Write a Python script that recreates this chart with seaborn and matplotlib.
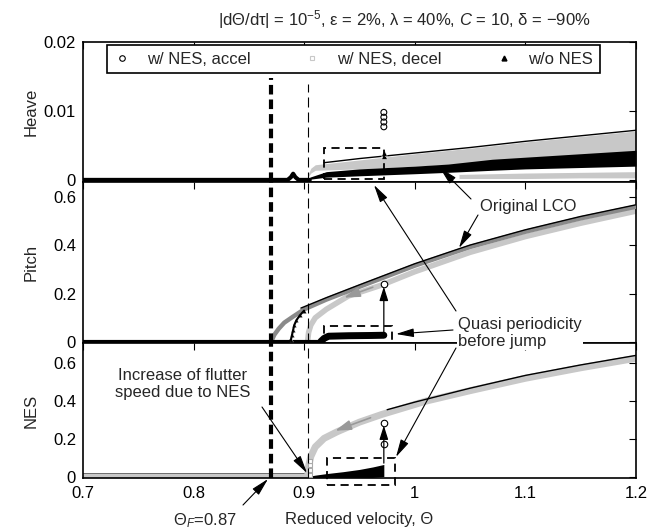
import numpy as np
import pandas as pd
import matplotlib
matplotlib.use('Agg')
import matplotlib.pyplot as plt
import matplotlib.patheffects as pe
import seaborn as sns
from matplotlib.patches import Rectangle
from matplotlib.lines import Line2D

sns.set_theme(style='white')
plt.rcParams['font.family'] = ['Liberation Sans', 'DejaVu Sans']
plt.rcParams['mathtext.fontset'] = 'custom'
plt.rcParams['mathtext.rm'] = 'Liberation Sans'
plt.rcParams['mathtext.it'] = 'Liberation Sans:italic'
plt.rcParams['mathtext.sf'] = 'Liberation Sans'
plt.rcParams['font.size'] = 12

# ---------------- data ----------------
theta_F = 0.87
theta_NES = 0.903
x_ticks = [0.7, 0.8, 0.9, 1.0, 1.1, 1.2]
x_ticklabels = ['0.7', '0.8', '0.9', '1', '1.1', '1.2']

# Heave
heave_zero_v = [0.70, 0.80, 0.86, 0.885, 0.888, 0.890, 0.892, 0.895, 0.905]
heave_zero = [0.0, 0.0, 0.0, 0.0, 0.0004, 0.0009, 0.0004, 0.0, 0.0]
heave_decel_v = [0.903, 0.906, 0.91, 0.95, 1.00, 1.05, 1.10, 1.15, 1.20]
heave_decel_lo = [0.0003, 0.0010, 0.0014, 0.0016, 0.0020, 0.0024, 0.0028, 0.0032, 0.0036]
heave_decel_hi = [0.0006, 0.0017, 0.0022, 0.0029, 0.0038, 0.0046, 0.0055, 0.0063, 0.0071]
heave_lco_v = [0.905, 0.92, 0.95, 1.00, 1.03, 1.07, 1.10, 1.15, 1.20]
heave_lco_lo = [0.0001, 0.0004, 0.0006, 0.0009, 0.0011, 0.0014, 0.0016, 0.0018, 0.0020]
heave_lco_hi = [0.0004, 0.0012, 0.0016, 0.0020, 0.0023, 0.0030, 0.0033, 0.0038, 0.0043]
heave_top_v = [0.918, 0.95, 1.00, 1.05, 1.10, 1.15, 1.20]
heave_top = [0.0025, 0.0031, 0.0039, 0.0047, 0.0056, 0.0064, 0.0072]
heave_low_v = [1.04, 1.10, 1.15, 1.20]
heave_low_lo = [0.0002, 0.0002, 0.0003, 0.0003]
heave_low_hi = [0.0008, 0.0010, 0.0011, 0.0012]
heave_jump_v = [0.972, 0.972, 0.972, 0.972]
heave_jump = [0.0077, 0.0084, 0.0091, 0.0098]
heave_spike_v = [0.972, 0.972]
heave_spike = [0.0035, 0.0039]

# Pitch
pitch_lco_v = [0.870, 0.873, 0.877, 0.882, 0.890, 0.900, 0.920, 0.950, 1.000, 1.050, 1.100, 1.150, 1.200]
pitch_lco = [0.000, 0.030, 0.055, 0.080, 0.105, 0.135, 0.175, 0.228, 0.315, 0.392, 0.455, 0.510, 0.558]
pitch_top_v = [0.897, 0.920, 0.950, 1.000, 1.050, 1.100, 1.150, 1.200]
pitch_top = [0.140, 0.183, 0.236, 0.323, 0.400, 0.463, 0.518, 0.566]
pitch_decel_v = [0.903, 0.904, 0.906, 0.910, 0.920, 0.940, 0.970, 1.000, 1.050, 1.100, 1.150, 1.200]
pitch_decel = [0.0, 0.04, 0.07, 0.10, 0.135, 0.19, 0.235, 0.29, 0.37, 0.435, 0.49, 0.540]
pitch_zero_v = [0.70, 0.80, 0.90, 0.915]
pitch_zero = [0.0, 0.0, 0.0, 0.0]
pitch_qp_v = [0.915, 0.918, 0.922, 0.94, 0.96, 0.972]
pitch_qp = [0.002, 0.015, 0.024, 0.026, 0.027, 0.028]
pitch_rise_v = [0.886, 0.888, 0.889, 0.890, 0.891, 0.893, 0.896, 0.900]
pitch_rise = [0.0, 0.01, 0.03, 0.05, 0.07, 0.09, 0.11, 0.13]
pitch_jump_v = [0.972]
pitch_jump = [0.238]

# NES
nes_zero_v = [0.70, 0.75, 0.80, 0.85, 0.903]
nes_zero = [0.0, 0.0, 0.0, 0.0, 0.0]
nes_decel_v = [0.903, 0.904, 0.906, 0.910, 0.918, 0.930, 0.950, 0.970, 0.990, 1.010, 1.050, 1.100, 1.150, 1.200]
nes_decel = [0.0, 0.06, 0.11, 0.16, 0.205, 0.24, 0.29, 0.33, 0.365, 0.40, 0.455, 0.52, 0.575, 0.625]
nes_top_v = [0.975, 1.00, 1.05, 1.10, 1.15, 1.20]
nes_top = [0.355, 0.395, 0.468, 0.535, 0.590, 0.640]
nes_qp_v = [0.903, 0.91, 0.92, 0.935, 0.95, 0.962, 0.972]
nes_qp_lo = [0.0, 0.0, 0.0, 0.0, 0.0, 0.0, 0.005]
nes_qp_hi = [0.005, 0.012, 0.020, 0.030, 0.042, 0.055, 0.068]
nes_sq_v = [0.905, 0.905, 0.905, 0.905]
nes_sq = [0.015, 0.040, 0.065, 0.085]
nes_jump_v = [0.972, 0.972]
nes_jump = [0.175, 0.285]

LG = '#c8c8c8'   # light gray (decel)
MG = '#8a8a8a'   # medium gray
K = 'black'

# ---------------- figure ----------------
fig = plt.figure(figsize=(6.66, 5.32), dpi=100)
L, W = 83/666, 553/666
axH = fig.add_axes([L, 1-182/532, W, 140/532])
axP = fig.add_axes([L, 1-343/532, W, 161/532])
axN = fig.add_axes([L, 1-478/532, W, 135/532])


def line(ax, x, y, color, lw, z=2, **kw):
    sns.lineplot(x=x, y=y, ax=ax, color=color, lw=lw, sort=False,
                 estimator=None, legend=False, zorder=z, **kw)

# Heave
axH.fill_between(heave_decel_v, heave_decel_lo, heave_decel_hi, color=LG, lw=0, zorder=2)
axH.fill_between(heave_low_v, heave_low_lo, heave_low_hi, color=LG, lw=0, zorder=2)
axH.fill_between(heave_lco_v, heave_lco_lo, heave_lco_hi, color=K, lw=0, zorder=3)
line(axH, heave_top_v, heave_top, K, 1.0, 3)
line(axH, heave_zero_v, heave_zero, K, 3.0, 3)
sns.scatterplot(x=heave_jump_v, y=heave_jump, ax=axH, marker='o', s=18,
                facecolor='none', edgecolor=K, linewidth=0.8, zorder=4)
sns.scatterplot(x=heave_spike_v, y=heave_spike, ax=axH, marker='^', s=18,
                color=K, zorder=4)

# Pitch
line(axP, pitch_decel_v, pitch_decel, LG, 4.0, 2)
line(axP, pitch_lco_v, pitch_lco, MG, 3.2, 3)
line(axP, pitch_top_v, pitch_top, K, 1.0, 3)
line(axP, pitch_zero_v, pitch_zero, K, 3.0, 3)
line(axP, pitch_qp_v, pitch_qp, K, 5.0, 3)
sns.scatterplot(x=pitch_rise_v, y=pitch_rise, ax=axP, marker='^', s=10,
                color=K, zorder=4)
line(axP, pitch_rise_v, pitch_rise, K, 1.5, 4)
sns.scatterplot(x=pitch_jump_v, y=pitch_jump, ax=axP, marker='o', s=22,
                facecolor='white', edgecolor=K, linewidth=0.8, zorder=5)

# NES
line(axN, nes_zero_v, nes_zero, LG, 4.5, 2,
     path_effects=[pe.Stroke(linewidth=5.5, foreground='#444444'), pe.Normal()])
line(axN, nes_decel_v, nes_decel, LG, 5.0, 2)
line(axN, nes_top_v, nes_top, K, 1.0, 3)
axN.fill_between(nes_qp_v, nes_qp_lo, nes_qp_hi, color=K, lw=0, zorder=3)
sns.scatterplot(x=nes_sq_v, y=nes_sq, ax=axN, marker='s', s=10,
                facecolor='white', edgecolor='#aaaaaa', linewidth=0.8, zorder=4)
sns.scatterplot(x=nes_jump_v, y=nes_jump, ax=axN, marker='o', s=22,
                facecolor='white', edgecolor=K, linewidth=0.8, zorder=5)

# vertical arrows (jump) and gray direction arrows
arw = dict(arrowstyle='-|>,head_length=0.7,head_width=0.22', color=K, lw=0.9,
           shrinkA=0, shrinkB=0)
garw = dict(arrowstyle='-|>,head_length=0.8,head_width=0.25', color='#999999',
            lw=1.2, shrinkA=0, shrinkB=0)
axP.annotate('', xy=(0.972, 0.228), xytext=(0.972, 0.035), arrowprops=arw, zorder=6)
axN.annotate('', xy=(0.972, 0.272), xytext=(0.972, 0.075), arrowprops=arw, zorder=6)
axP.annotate('', xy=(0.936, 0.183), xytext=(0.962, 0.226), arrowprops=garw, zorder=6)
axN.annotate('', xy=(0.928, 0.245), xytext=(0.960, 0.313), arrowprops=garw, zorder=6)

# dashed rectangles
rk = dict(fill=False, edgecolor=K, lw=1.3, linestyle=(0, (4.5, 3)), zorder=6)
axH.add_patch(Rectangle((0.9176, 0.00015), 0.972-0.9176, 0.0046-0.00015, **rk))
axP.add_patch(Rectangle((0.918, -0.044), 0.979-0.918, 0.068+0.044, clip_on=False, **rk))
axN.add_patch(Rectangle((0.921, -0.038), 0.982-0.921, 0.104+0.038, clip_on=False, **rk))

# axes styling
for ax in (axH, axP, axN):
    ax.set_xlim(0.7, 1.2)
    ax.set_xticks(x_ticks)
    ax.tick_params(direction='in', top=True, right=True, length=5, width=0.8,
                   colors=K, labelsize=12, pad=5)
    for s in ax.spines.values():
        s.set_color(K)
        s.set_linewidth(1.2)
    ax.set_facecolor('white')
    ax.yaxis.set_label_coords(-(83-39)/553, 0.5)
for ax in (axH, axP):
    ax.set_xticklabels([])

axH.set_ylim(-0.0003, 0.02)
axH.set_yticks([0, 0.01, 0.02])
axH.set_yticklabels(['0', '0.01', '0.02'])
axP.set_ylim(-0.004, 0.66)
axP.set_yticks([0, 0.2, 0.4, 0.6])
axP.set_yticklabels(['0', '0.2', '0.4', '0.6'])
axN.set_ylim(-0.003, 0.705)
axN.set_yticks([0, 0.2, 0.4, 0.6])
axN.set_yticklabels(['0', '0.2', '0.4', '0.6'])
axN.set_xticklabels(x_ticklabels)
axN.tick_params(axis='x', pad=6)

axH.set_ylabel('Heave', fontsize=12)
axP.set_ylabel('Pitch', fontsize=12)
axN.set_ylabel('NES', fontsize=12)
axN.set_xlabel('Reduced velocity, Θ', fontsize=12)
axN.xaxis.set_label_coords(0.5, -(512-478)/135)

# vertical dashed flutter lines
axH.axvline(theta_F, ymin=0, ymax=0.74, color=K, lw=3, linestyle=(0, (2.3, 1.2)), zorder=5)
axP.axvline(theta_F, color=K, lw=3, linestyle=(0, (2.3, 1.2)), zorder=5)
axN.axvline(theta_F, color=K, lw=3, linestyle=(0, (2.3, 1.2)), zorder=5)
axH.axvline(theta_NES, ymin=0, ymax=0.70, color=K, lw=0.8, linestyle=(0, (9, 4.5)), zorder=5)
axP.axvline(theta_NES, color=K, lw=0.8, linestyle=(0, (9, 4.5)), zorder=5)
axN.axvline(theta_NES, color=K, lw=0.8, linestyle=(0, (9, 4.5)), zorder=5)

# legend
handles = [
    Line2D([], [], ls='none', marker='o', ms=4, mfc='none', mec=K, mew=0.8),
    Line2D([], [], ls='none', marker='s', ms=3.5, mfc='none', mec=LG, mew=0.8),
    Line2D([], [], ls='none', marker='^', ms=3.5, mfc=K, mec=K),
]
labels = ['w/ NES, accel', 'w/ NES, decel', 'w/o NES']
leg = axH.legend(handles, labels, loc='upper center',
                 bbox_to_anchor=((353.5-83)/553, 1-3/140),
                 ncol=3, frameon=True, fancybox=False,
                 edgecolor=K, framealpha=1, handlelength=1.0,
                 handletextpad=1.0, columnspacing=3.2, fontsize=12,
                 borderpad=0.4, borderaxespad=0)
leg.get_frame().set_linewidth(1.2)
leg.set_zorder(10)

# title
fig.text(404/666, 1-20/532,
         r'|dΘ/dτ| = 10$^{\mathrm{-5}}$, ε = 2%, λ = 40%, $C$ = 10, δ = −90%',
         ha='center', va='center', fontsize=12)

# annotations (figure pixel coordinates)
H = 532
ann = dict(arrowstyle='-|>,head_length=0.9,head_width=0.22', color=K, lw=0.8,
           shrinkA=0, shrinkB=0)

fig.text(528/666, 1-207/532, 'Original LCO', ha='center', va='center', fontsize=12)
plt.annotate('', xy=(440, H-168), xycoords='figure pixels',
             xytext=(471, H-199), textcoords='figure pixels', arrowprops=ann)
plt.annotate('', xy=(459, H-248), xycoords='figure pixels',
             xytext=(478, H-215), textcoords='figure pixels', arrowprops=ann)

fig.text(458/666, 1-333/532, 'Quasi periodicity\nbefore jump', ha='left', va='center',
         fontsize=12, linespacing=1.15,
         bbox=dict(facecolor='white', edgecolor='none', pad=1.0), zorder=20)
plt.annotate('', xy=(374, H-185), xycoords='figure pixels',
             xytext=(456, H-311), textcoords='figure pixels', arrowprops=ann)
plt.annotate('', xy=(396, H-334), xycoords='figure pixels',
             xytext=(453, H-330), textcoords='figure pixels', arrowprops=ann)
plt.annotate('', xy=(396, H-457), xycoords='figure pixels',
             xytext=(456, H-348), textcoords='figure pixels', arrowprops=ann)

fig.text(183/666, 1-384/532, 'Increase of flutter\nspeed due to NES', ha='center',
         va='center', fontsize=12, linespacing=1.15)
plt.annotate('', xy=(307, H-473), xycoords='figure pixels',
             xytext=(262, H-407), textcoords='figure pixels', arrowprops=ann)

fig.text(205/666, 1-521/532, r'Θ$_F$=0.87', ha='center', va='center', fontsize=12)
plt.annotate('', xy=(268, H-479), xycoords='figure pixels',
             xytext=(243, H-505), textcoords='figure pixels', arrowprops=ann)

fig.savefig('out.png', dpi=100, facecolor='white')
